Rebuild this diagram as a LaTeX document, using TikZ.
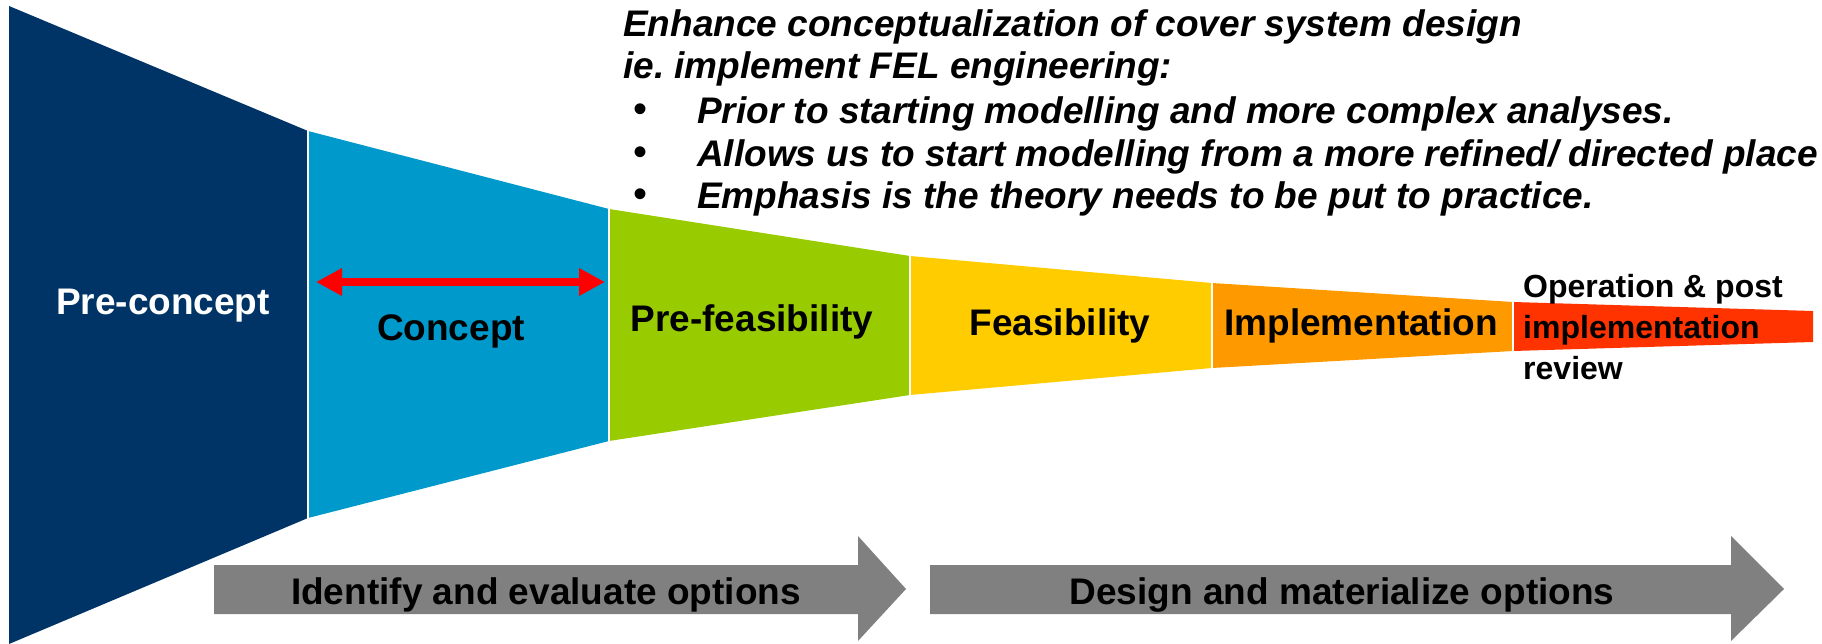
\documentclass[tikz,border=0pt]{standalone}
\usepackage{fontspec}
\setmainfont{Liberation Sans}
\usetikzlibrary{arrows.meta}
\definecolor{cnavy}{HTML}{003366}
\definecolor{cblue}{HTML}{0099CC}
\definecolor{cgreen}{HTML}{99CC00}
\definecolor{cyellow}{HTML}{FFCC00}
\definecolor{corange}{HTML}{FF9900}
\definecolor{cred}{HTML}{FF3300}
\definecolor{carrow}{HTML}{FF0000}
\definecolor{cgray}{HTML}{808080}
\frenchspacing
\begin{document}
\begin{tikzpicture}[x=1pt,y=-1pt,
  lab/.style={font=\fontsize{37}{44}\selectfont\bfseries, inner sep=0pt, anchor=base},
  oplab/.style={font=\fontsize{32}{40}\selectfont\bfseries, inner sep=0pt, anchor=base west},
  toplab/.style={font=\fontsize{37}{44}\selectfont\bfseries\itshape, inner sep=0pt, anchor=base west},
  bul/.style={font=\fontsize{40}{44}\selectfont, inner sep=0pt, anchor=center},
  sep/.style={draw=white, line width=2.5pt},
  grayarrow/.style={fill=cgray},
  dblarrow/.style={draw=carrow, line width=8pt, {Triangle[length=26pt,width=26pt]}-{Triangle[length=26pt,width=26pt]}}
]
\useasboundingbox (0,0) rectangle (1822,644);
% funnel segments
\fill[cnavy]   (9,6) -- (308,131) -- (308,518) -- (9,644) -- cycle;
\fill[cblue]   (308,131) -- (609,209) -- (609,441) -- (308,518) -- cycle;
\fill[cgreen]  (609,209) -- (910,256) -- (910,395) -- (609,441) -- cycle;
\fill[cyellow] (910,256) -- (1212,283) -- (1212,368) -- (910,395) -- cycle;
\fill[corange] (1212,283) -- (1513,302) -- (1513,351) -- (1212,368) -- cycle;
\fill[cred]    (1513,302) -- (1813,311) -- (1813,342) -- (1513,351) -- cycle;
\draw[sep] (308,128) -- (308,521);
\draw[sep] (609,206) -- (609,444);
\draw[sep] (910,253) -- (910,398);
\draw[sep] (1212,280) -- (1212,371);
\draw[sep] (1513,299) -- (1513,354);
% labels
\node[lab, text=white] (pre) at (163,314) {Pre-concept};
\node[lab] (con) at (451,340) {Concept};
\node[lab] (pref) at (752,331) {Pre-feasibility};
\node[lab] (feas) at (1060,335) {Feasibility};
\node[lab] (impl) at (1361,335) {Implementation};
\node[oplab] (op1) at (1523,297) {Operation \& post};
\node[oplab] (op2) at (1523,338) {implementation};
\node[oplab] (op3) at (1523,379) {review};
% red double arrow
\coordinate (ra) at (316,282);
\coordinate (rb) at (605,282);
\draw[dblarrow] (ra) -- (rb);
% top text
\node[toplab] (t1) at (623,37) {Enhance conceptualization of cover system design};
\node[toplab] (t2) at (623,79) {ie. implement FEL engineering:};
\node[bul] (b1) at (640,113) {\textbullet};
\node[toplab] (t3) at (697,124) {Prior to starting modelling and more complex analyses.};
\node[bul] (b2) at (640,156) {\textbullet};
\node[toplab] (t4) at (697,167) {Allows us to start modelling from a more refined/ directed place};
\node[bul] (b3) at (640,198) {\textbullet};
\node[toplab] (t5) at (697,209) {Emphasis is the theory needs to be put to practice.};
% gray arrows
\fill[grayarrow] (214,565) -- (858,565) -- (858,536) -- (906,589) -- (858,641) -- (858,614) -- (214,614) -- cycle;
\fill[grayarrow] (930,565) -- (1731,565) -- (1731,536) -- (1784,589) -- (1731,641) -- (1731,614) -- (930,614) -- cycle;
\node[lab] (g1) at (546,604) {Identify and evaluate options};
\node[lab] (g2) at (1342,604) {Design and materialize options};
\end{tikzpicture}
\end{document}
